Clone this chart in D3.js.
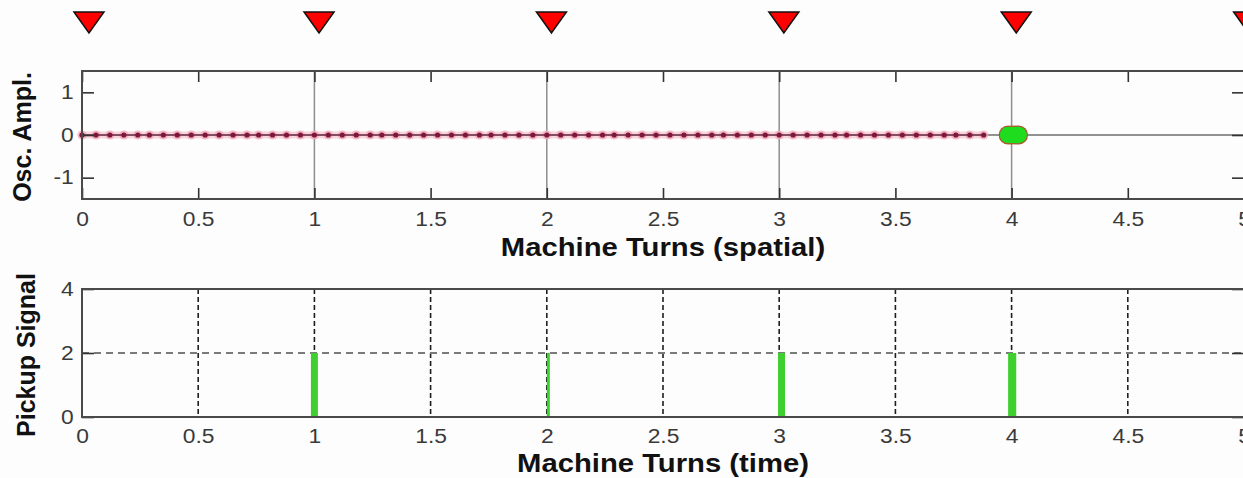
<!DOCTYPE html>
<html>
<head>
<meta charset="utf-8">
<script src="https://cdn.jsdelivr.net/npm/d3@7"></script>
<style>
  html, body { margin: 0; padding: 0; background: #fdfdfd; }
  svg { display: block; }
  text { font-family: "Liberation Sans", Arial, Helvetica, sans-serif; }
</style>
</head>
<body>
<svg id="chart" width="1243" height="478"></svg>
<script>
// ---------- data ----------
const markerTurns = [0.03, 1.02, 2.02, 3.02, 4.02, 5.02];           // red pickup markers above the chart
const dotTurns = [0.00,0.06,0.12,0.18,0.24,0.29,0.35,0.41,0.47,0.53,0.59,0.65,0.71,0.76,0.82,0.88,0.94,
                  1.00,1.06,1.12,1.18,1.24,1.29,1.35,1.41,1.47,1.53,1.59,1.65,1.71,1.76,1.82,1.88,1.94,
                  2.00,2.06,2.12,2.18,2.24,2.29,2.35,2.41,2.47,2.53,2.59,2.65,2.71,2.76,2.82,2.88,2.94,
                  3.00,3.06,3.12,3.18,3.24,3.29,3.35,3.41,3.47,3.53,3.59,3.65,3.71,3.76,3.82,3.88];
const dotAmpl  = [0,0,0,0,0,0,0,0,0,0,0,0,0,0,0,0,0,
                  0,0,0,0,0,0,0,0,0,0,0,0,0,0,0,0,0,
                  0,0,0,0,0,0,0,0,0,0,0,0,0,0,0,0,0,
                  0,0,0,0,0,0,0,0,0,0,0,0,0,0,0,0];
const bunchTurns = [3.985, 4.0, 4.015, 4.03];                       // green bunch at the pickup
const bunchAmpl  = [0, 0, 0, 0];
const baseLine   = [[0, 0], [5, 0]];
const pulseStart = [0.985, 2.0, 2.995, 3.985];
const pulseEnd   = [1.015, 2.013, 3.025, 4.02];
const pulseLevel = [2, 2, 2, 2];

const xTicks = [0, 0.5, 1, 1.5, 2, 2.5, 3, 3.5, 4, 4.5, 5];
const xTickLabels = ["0","0.5","1","1.5","2","2.5","3","3.5","4","4.5","5"];
const yTopTicks = [-1, 0, 1];
const yTopLabels = ["-1","0","1"];
const yBotTicks = [0, 2, 4];
const yBotLabels = ["0","2","4"];
const turnGrid = [1, 2, 3, 4, 5];
const halfGrid = [0.5, 1, 1.5, 2, 2.5, 3, 3.5, 4, 4.5, 5];
const refLevel = [2];

// ---------- layout ----------
const svg = d3.select("#chart");
const X0 = 82, X1 = 1244;
const x = d3.scaleLinear().domain([0, 5]).range([X0, X1]);
const yTop = d3.scaleLinear().domain([-1.5, 1.5]).range([199, 71]);
const yBot = d3.scaleLinear().domain([0, 4]).range([417, 289]);
const SX = 1.17;   // horizontal stretch of the original text
const tickCol = "#333", frameCol = "#4a4a4a";

function styleAxis(g, showText) {
  g.select(".domain").remove();
  g.selectAll(".tick line").attr("stroke", tickCol).attr("stroke-width", 1.6);
  g.selectAll(".tick text")
    .attr("fill", "#3a3a3a").attr("font-size", 19.5)
    .attr("transform", `scale(${SX},1)`);
  if (!showText) g.selectAll(".tick text").remove();
}

// ================= TOP PANEL =================
const topG = svg.append("g");
topG.selectAll("line.grid").data(turnGrid).join("line")
  .attr("x1", d => x(d)).attr("x2", d => x(d))
  .attr("y1", yTop(1.5)).attr("y2", yTop(-1.5))
  .attr("stroke", "#8e8e8e").attr("stroke-width", 1.5);

topG.append("path").datum(baseLine)
  .attr("d", d3.line().x(d => x(d[0])).y(d => yTop(d[1])))
  .attr("stroke", "#6e6e6e").attr("stroke-width", 1.6).attr("fill", "none");

const dots = dotTurns.map((t, i) => [t, dotAmpl[i]]);
const dline = d3.line().x(d => x(d[0])).y(d => yTop(d[1]));
topG.append("path").datum(dots).attr("d", dline)
  .attr("stroke", "#f6c3d0").attr("stroke-width", 7).attr("fill", "none").attr("opacity", 0.7);
topG.selectAll("circle.halo").data(dots).join("circle")
  .attr("cx", d => x(d[0])).attr("cy", d => yTop(d[1])).attr("r", 4.6)
  .attr("fill", "#f2a6bb").attr("opacity", 0.75);
topG.append("path").datum(dots).attr("d", dline)
  .attr("stroke", "#6a2a44").attr("stroke-width", 1.5).attr("fill", "none");
topG.selectAll("circle.dot").data(dots).join("circle")
  .attr("cx", d => x(d[0])).attr("cy", d => yTop(d[1])).attr("r", 2.6)
  .attr("fill", "#7d1838");

const bunch = bunchTurns.map((t, i) => [t, bunchAmpl[i]]);
topG.selectAll("circle.bo").data(bunch).join("circle")
  .attr("cx", d => x(d[0])).attr("cy", d => yTop(d[1])).attr("r", 9.5)
  .attr("fill", "#b0552e");
topG.selectAll("circle.bi").data(bunch).join("circle")
  .attr("cx", d => x(d[0])).attr("cy", d => yTop(d[1])).attr("r", 8.3)
  .attr("fill", "#1fdc1f");

topG.append("g").attr("transform", `translate(0,${yTop(-1.5)})`)
  .call(d3.axisBottom(x).tickValues(xTicks).tickFormat((d, i) => xTickLabels[i]).tickSize(-11).tickPadding(13))
  .call(g => styleAxis(g, true));
topG.append("g").attr("transform", `translate(0,${yTop(1.5)})`)
  .call(d3.axisTop(x).tickValues(xTicks).tickSize(-11))
  .call(g => styleAxis(g, false));
topG.append("g").attr("transform", `translate(${X0},0)`)
  .call(d3.axisLeft(yTop).tickValues(yTopTicks).tickFormat((d, i) => yTopLabels[i]).tickSize(-12).tickPadding(7))
  .call(g => styleAxis(g, true));
topG.append("g").attr("transform", `translate(${X1},0)`)
  .call(d3.axisRight(yTop).tickValues(yTopTicks).tickSize(-12))
  .call(g => styleAxis(g, false));
topG.append("rect")
  .attr("x", X0).attr("y", yTop(1.5)).attr("width", X1 - X0).attr("height", yTop(-1.5) - yTop(1.5))
  .attr("fill", "none").attr("stroke", frameCol).attr("stroke-width", 2);

// ================= BOTTOM PANEL =================
const botG = svg.append("g");
botG.selectAll("line.vg").data(halfGrid).join("line")
  .attr("x1", d => x(d)).attr("x2", d => x(d))
  .attr("y1", yBot(4)).attr("y2", yBot(0))
  .attr("stroke", "#1e1e1e").attr("stroke-width", 1.6).attr("stroke-dasharray", "5,3");
botG.selectAll("line.hg").data(refLevel).join("line")
  .attr("x1", X0).attr("x2", X1)
  .attr("y1", d => yBot(d)).attr("y2", d => yBot(d))
  .attr("stroke", "#7a7a7a").attr("stroke-width", 2).attr("stroke-dasharray", "7,5");

botG.selectAll("rect.pulse").data(pulseStart.map((s, i) => [s, pulseEnd[i], pulseLevel[i]])).join("rect")
  .attr("x", d => x(d[0])).attr("width", d => x(d[1]) - x(d[0]))
  .attr("y", d => yBot(d[2])).attr("height", d => yBot(0) - yBot(d[2]))
  .attr("fill", "#3fcf2f");

botG.append("g").attr("transform", `translate(0,${yBot(0)})`)
  .call(d3.axisBottom(x).tickValues(xTicks).tickFormat((d, i) => xTickLabels[i]).tickSize(0).tickPadding(12))
  .call(g => styleAxis(g, true));
botG.append("g").attr("transform", `translate(${X0},0)`)
  .call(d3.axisLeft(yBot).tickValues(yBotTicks).tickFormat((d, i) => yBotLabels[i]).tickSize(-12).tickPadding(7))
  .call(g => styleAxis(g, true));
botG.append("g").attr("transform", `translate(${X1},0)`)
  .call(d3.axisRight(yBot).tickValues(yBotTicks).tickSize(-12))
  .call(g => styleAxis(g, false));
botG.append("rect")
  .attr("x", X0).attr("y", yBot(4)).attr("width", X1 - X0).attr("height", yBot(0) - yBot(4))
  .attr("fill", "none").attr("stroke", frameCol).attr("stroke-width", 2);

// ================= MARKERS =================
svg.selectAll("path.marker").data(markerTurns).join("path")
  .attr("transform", d => `translate(${x(d)},12)`)
  .attr("d", "M-15,0 L15,0 L0,21 Z")
  .attr("fill", "#ff0000").attr("stroke", "#111").attr("stroke-width", 1.5)
  .attr("stroke-linejoin", "miter");

// ================= TITLES =================
const midX = (X0 + X1) / 2;
function hLabel(txt, y) {
  svg.append("text").attr("transform", `translate(${midX},${y}) scale(${SX},1)`)
    .attr("text-anchor", "middle").attr("font-size", 25).attr("font-weight", "bold")
    .attr("fill", "#111").text(txt);
}
hLabel("Machine Turns (spatial)", 256);
hLabel("Machine Turns (time)", 472);
function vLabel(txt, xPos, yc) {
  svg.append("text").attr("transform", `translate(${xPos},${yc}) rotate(-90)`)
    .attr("text-anchor", "middle").attr("font-size", 25).attr("font-weight", "bold")
    .attr("fill", "#111").text(txt);
}
vLabel("Osc. Ampl.", 31, 137);
vLabel("Pickup Signal", 35, 355);
</script>
</body>
</html>
